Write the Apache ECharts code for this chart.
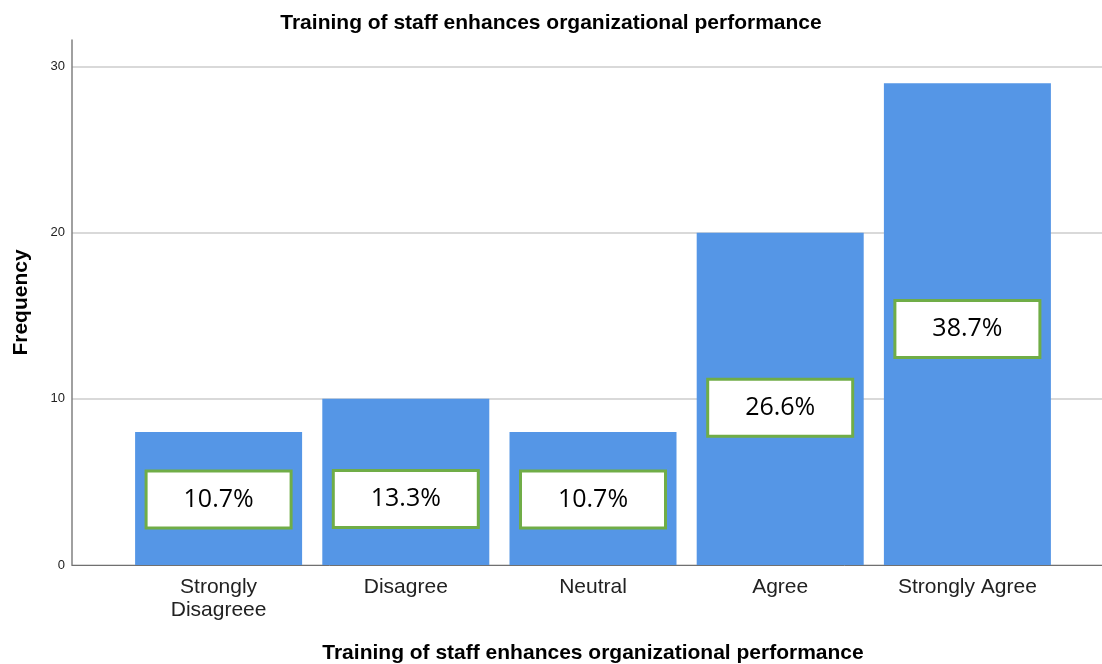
<!DOCTYPE html>
<html>
<head>
<meta charset="utf-8">
<script src="https://cdn.jsdelivr.net/npm/echarts@6/dist/echarts.min.js"></script>
<style>
  html, body { margin: 0; padding: 0; background: #fff; }
  #chart { width: 1102px; height: 664px; }
</style>
</head>
<body>
<div id="chart"></div>
<script>
// 数据
var categories = ['Strongly\nDisagreee', 'Disagree', 'Neutral', 'Agree', 'Strongly Agree']
var frequency = [8, 10, 8, 20, 29]
var percentLabels = ['10.7%', '13.3%', '10.7%', '26.6%', '38.7%']
var yTicks = [0, 10, 20, 30]

// 标签框的垂直微调（像素）
var labelShift = [1, 17, 1, 9, 5]

var chart = echarts.init(document.getElementById('chart'))

var yMax = 31.6
var fontMain = 'Liberation Sans, Arial, sans-serif'
var titleText = 'Training of staff enhances organizational performance'

chart.setOption({
  animation: false,
  title: {
    text: titleText,
    left: 'center',
    top: 8,
    textStyle: { fontFamily: fontMain, fontSize: 21, fontWeight: 'bold', color: '#000' }
  },
  grid: [
    // 坐标轴、网格线
    { left: 72, right: 0, top: 40, bottom: 99, containLabel: false, outerBoundsMode: 'none' },
    // 柱子所在区域
    { left: 125, right: 41, top: 40, bottom: 99, containLabel: false, outerBoundsMode: 'none' }
  ],
  xAxis: [
    {
      gridIndex: 0,
      type: 'value',
      min: 0,
      max: 1,
      axisLine: { show: true, lineStyle: { color: '#707070', width: 1 } },
      axisTick: { show: false },
      axisLabel: { show: false },
      splitLine: { show: false }
    },
    {
      gridIndex: 1,
      type: 'category',
      data: categories,
      axisLine: { show: false },
      axisTick: { show: false },
      axisLabel: {
        interval: 0,
        margin: 11,
        fontFamily: fontMain,
        fontSize: 21,
        lineHeight: 23,
        color: '#222'
      },
      name: titleText,
      nameLocation: 'middle',
      nameGap: 78,
      nameTextStyle: { fontFamily: fontMain, fontSize: 21, fontWeight: 'bold', color: '#000' }
    }
  ],
  yAxis: [
    {
      gridIndex: 0,
      type: 'value',
      min: 0,
      max: yMax,
      name: 'Frequency',
      nameLocation: 'middle',
      nameGap: 40,
      nameRotate: 90,
      nameTextStyle: { fontFamily: fontMain, fontSize: 21, fontWeight: 'bold', color: '#000' },
      axisLine: { show: true, lineStyle: { color: '#808080', width: 1.5 } },
      axisTick: { show: false, customValues: yTicks },
      axisLabel: {
        customValues: yTicks,
        margin: 7,
        fontFamily: fontMain,
        fontSize: 13,
        color: '#222'
      },
      splitLine: { show: true, lineStyle: { color: '#cccccc', width: 1.5 } }
    },
    {
      gridIndex: 1,
      type: 'value',
      min: 0,
      max: yMax,
      show: false,
      splitLine: { show: false }
    }
  ],
  series: [{
    type: 'bar',
    xAxisIndex: 1,
    yAxisIndex: 1,
    barWidth: 167,
    itemStyle: { color: '#5596e6' },
    label: {
      show: true,
      position: 'inside',
      formatter: function(p) { return percentLabels[p.dataIndex] },
      fontFamily: 'Open Sans, Noto Sans, sans-serif',
      fontSize: 25,
      color: '#000',
      backgroundColor: '#fff',
      borderColor: '#70ad47',
      borderWidth: 3,
      width: 142,
      height: 54,
      lineHeight: 54,
      align: 'center'
    },
    data: frequency.map(function(v, i) {
      return { value: v, label: { offset: [0, labelShift[i]] } }
    })
  }]
})
</script>
</body>
</html>
